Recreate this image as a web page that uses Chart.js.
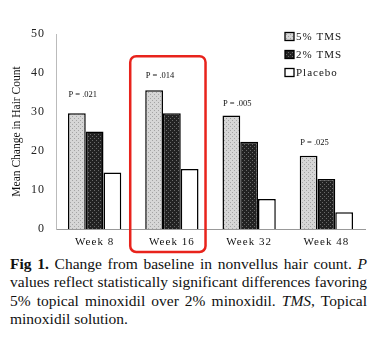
<!DOCTYPE html>
<html lang="en">
<head>
<meta charset="UTF-8">
<title>Fig 1. Change from baseline in nonvellus hair count</title>
<script src="https://cdn.jsdelivr.net/npm/chart.js"></script>
<style>
  body { margin: 0; background: #fff; width: 389px; height: 339px; overflow: hidden; }
  #wrap { width: 389px; height: 255px; }
  .caption {
    font-family: 'Liberation Serif', serif;
    font-size: 15.5px;
    line-height: 18.4px;
    color: #111;
    margin: 0 0 0 10px;
    width: 357px;
  }
  .caption span { display: block; text-align: justify; text-align-last: justify; }
  .caption span.last { text-align-last: left; }
</style>
</head>
<body>
  <div id="wrap"><canvas id="hairChart" width="389" height="255"></canvas></div>
  <div class="caption">
    <span><b>Fig 1.</b> Change from baseline in nonvellus hair count. <i>P</i></span>
    <span>values reflect statistically significant differences favoring</span>
    <span>5% topical minoxidil over 2% minoxidil. <i>TMS</i>, Topical</span>
    <span class="last">minoxidil solution.</span>
  </div>

  <script>
    const weeks = ['Week 8', 'Week 16', 'Week 32', 'Week 48'];
    const seriesNames = ['5% TMS', '2% TMS', 'Placebo'];
    const tms5 = [29.7, 35.6, 29.1, 18.8];
    const tms2 = [25.0, 29.7, 22.4, 12.8];
    const placebo = [14.5, 15.4, 7.7, 4.3];
    const pValues = ['P = .021', 'P = .014', 'P = .005', 'P = .025'];
    const pLabelAt = [34.4, 39.3, 32.0, 22.2];   // height of each P label, in hair count units
    const yTitle = 'Mean Change in Hair Count';
    const highlightIndex = 1;   // Week 16 is boxed in red
    const highlightTop = 44.3;

    const canvas = document.getElementById('hairChart');
    const ctx = canvas.getContext('2d');

    // small dotted fills like the printed halftone
    function dots(base, dot) {
      const c = document.createElement('canvas');
      c.width = 4; c.height = 4;
      const g = c.getContext('2d');
      g.fillStyle = base;
      g.fillRect(0, 0, 4, 4);
      g.fillStyle = dot;
      g.fillRect(0, 0, 1, 1);
      g.fillRect(2, 2, 1, 1);
      return ctx.createPattern(c, 'repeat');
    }
    const fills = [dots('#d6d6d6', '#a4a4a4'), dots('#222222', '#6a6a6a'), '#ffffff'];

    const serif = 'Liberation Serif';

    const decor = {
      id: 'decor',
      beforeDraw(chart) {
        chart.ctx.letterSpacing = '1px';
      },
      afterDatasetsDraw(chart) {
        const c = chart.ctx;
        const y = chart.scales.y;
        const area = chart.chartArea;
        const m0 = chart.getDatasetMeta(0);
        const m2 = chart.getDatasetMeta(2);
        c.save();
        c.letterSpacing = '0px';
        c.fillStyle = '#111';

        // P values above each group
        c.font = '8.5px "' + serif + '"';
        c.textAlign = 'left';
        c.textBaseline = 'middle';
        pValues.forEach((t, i) => {
          const bar = m0.data[i];
          c.fillText(t, bar.x - bar.width / 2 + 0.5, y.getPixelForValue(pLabelAt[i]));
        });

        // red box round Week 16
        const first = m0.data[highlightIndex];
        const last = m2.data[highlightIndex];
        const left = first.x - first.width / 2 - 15;
        const right = last.x + last.width / 2 + 7;
        const top = y.getPixelForValue(highlightTop);
        const bottom = area.bottom + 23;
        c.strokeStyle = '#e8231c';
        c.lineWidth = 2.5;
        c.beginPath();
        c.roundRect(left, top, right - left, bottom - top, 6);
        c.stroke();

        // y axis title
        c.save();
        c.translate(17, (area.top + area.bottom) / 2);
        c.rotate(-Math.PI / 2);
        c.font = '11.5px "' + serif + '"';
        c.textAlign = 'center';
        c.fillText(yTitle, 0, 0);
        c.restore();

        // legend
        c.letterSpacing = '1px';
        c.font = '11px "' + serif + '"';
        c.textAlign = 'left';
        seriesNames.forEach((name, i) => {
          const cy = area.top + 2.5 + i * 18;
          const bx = area.right - 80;
          c.fillStyle = fills[i];
          c.fillRect(bx, cy - 4, 9, 8);
          c.strokeStyle = '#000';
          c.lineWidth = 1.3;
          c.strokeRect(bx, cy - 4, 9, 8);
          c.fillStyle = '#111';
          c.fillText(name, bx + 11, cy + 0.5);
        });
        c.restore();
      },
      afterDraw(chart) {
        chart.ctx.letterSpacing = '0px';
      }
    };

    const chart = new Chart(ctx, {
      type: 'bar',
      data: {
        labels: weeks,
        datasets: [
          { label: seriesNames[0], data: tms5, backgroundColor: fills[0], borderColor: '#000', borderWidth: 1.5 },
          { label: seriesNames[1], data: tms2, backgroundColor: fills[1], borderColor: '#000', borderWidth: 1.5 },
          { label: seriesNames[2], data: placebo, backgroundColor: fills[2], borderColor: '#000', borderWidth: 1.5 }
        ]
      },
      options: {
        responsive: false,
        animation: false,
        devicePixelRatio: 1,
        categoryPercentage: 0.69,
        barPercentage: 1.0,
        layout: { padding: { top: 34, right: 24, left: 0, bottom: 0 } },
        plugins: {
          legend: { display: false },
          tooltip: { enabled: false }
        },
        scales: {
          x: {
            grid: { display: false, drawTicks: false },
            border: { color: '#999', width: 1 },
            ticks: { font: { family: serif, size: 11 }, color: '#111', padding: 7 },
            afterFit: s => { s.height = 26; }
          },
          y: {
            min: 0,
            max: 50,
            grid: { display: false, drawTicks: false },
            border: { color: '#bbb', width: 1, dash: [1, 1] },
            ticks: { stepSize: 10, font: { family: serif, size: 12 }, color: '#222', padding: 11 },
            afterFit: s => { s.width = 56; }
          }
        }
      },
      plugins: [decor]
    });
  </script>
</body>
</html>
